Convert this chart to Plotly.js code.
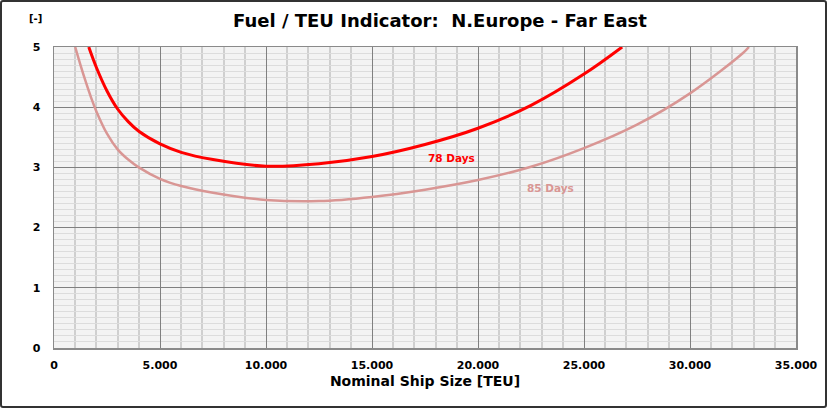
<!DOCTYPE html>
<html>
<head>
<meta charset="utf-8">
<script src="https://cdn.plot.ly/plotly-3.0.1.min.js"></script>
<style>
    body { margin: 0; background: #fff; }
    #chart { position: absolute; left: 0; top: 0; width: 827px; height: 408px; }
    #frame { position: absolute; left: 0; top: 0; width: 827px; height: 408px;
             box-sizing: border-box; border: 2px solid #333; border-radius: 3px; pointer-events: none; }
</style>
</head>
<body>
<div id="chart"></div>
<div id="frame"></div>
<script>
// 78 days round trip
const SIZE_78 = [1640, 2000, 2500, 3000, 3500, 4000, 5000, 6000, 7500, 10000, 12500, 15000, 17500, 20000, 22500, 25000, 26800];
const FUEL_78 = [5.0, 4.66, 4.27, 3.97, 3.76, 3.60, 3.39, 3.25, 3.13, 3.02, 3.06, 3.18, 3.38, 3.65, 4.03, 4.55, 5.0];

// 85 days round trip
const SIZE_85 = [1000, 1250, 1500, 1750, 2000, 2500, 3000, 3500, 4000, 5000, 6000, 7500, 10000, 12500, 15000, 17500, 20000, 22500, 25000, 27500, 30000, 32500, 32780];
const FUEL_85 = [5.0, 4.70, 4.42, 4.16, 3.93, 3.56, 3.30, 3.13, 3.00, 2.81, 2.69, 2.58, 2.46, 2.44, 2.51, 2.63, 2.79, 3.01, 3.32, 3.71, 4.23, 4.90, 5.0];

const RED  = "#ff0000";
const PINK = "#d99694";
const FONT = "DejaVu Sans, Verdana, sans-serif";

const DIV = document.querySelector("#chart");

let trace78 = {
    x: SIZE_78, y: FUEL_78,
    type: "scatter", mode: "lines",
    line: { color: RED, width: 3, shape: "spline", smoothing: 1 },
    hoverinfo: "skip"
};

let trace85 = {
    x: SIZE_85, y: FUEL_85,
    type: "scatter", mode: "lines",
    line: { color: PINK, width: 2.5, shape: "spline", smoothing: 1 },
    hoverinfo: "skip"
};

let data = [ trace85, trace78 ];

let layout = {
    width: 827,
    height: 408,
    margin: { l: 54, r: 31, t: 47, b: 60 },
    paper_bgcolor: "#ffffff",
    plot_bgcolor: "#f3f3f3",
    showlegend: false,
    separators: ",.",
    font: { family: FONT, color: "#000", size: 11, weight: "bold" },
    title: {
        text: "Fuel / TEU Indicator:  N.Europe - Far East",
        font: { family: FONT, size: 18, color: "#000", weight: "bold" },
        xref: "container", x: 0.532, xanchor: "center",
        yref: "container", y: 0.949, yanchor: "middle"
    },
    xaxis: {
        range: [0, 35000],
        dtick: 5000,
        tickformat: ",d",
        showgrid: true,
        gridcolor: "#808080",
        gridwidth: 1,
        minor: { dtick: 1000, showgrid: true, gridcolor: "#cfcfcf", gridwidth: 2 },
        showline: true, linecolor: "#8a8a8a", linewidth: 1.5, mirror: true,
        zeroline: false,
        ticks: "",
        ticklabelstandoff: 6,
        tickfont: { family: FONT, size: 11, weight: "bold" },
        title: { text: "Nominal Ship Size [TEU]", font: { family: FONT, size: 14, weight: "bold" }, standoff: 5 }
    },
    yaxis: {
        range: [0, 5],
        dtick: 1,
        showgrid: true,
        gridcolor: "#808080",
        gridwidth: 1,
        minor: { dtick: 0.1, showgrid: true, gridcolor: "#dcdcdc", gridwidth: 1 },
        showline: true, linecolor: "#8a8a8a", linewidth: 1.5, mirror: true,
        zeroline: false,
        ticks: "",
        ticklabelstandoff: 10,
        tickfont: { family: FONT, size: 11, weight: "bold" }
    },
    annotations: [
        { text: "[-]", xref: "paper", yref: "paper", x: -0.025, y: 1.096,
          xanchor: "center", yanchor: "middle", showarrow: false,
          font: { family: FONT, size: 10, weight: "bold" } },
        { text: "78 Days", xref: "x", yref: "y", x: 18730, y: 3.16,
          showarrow: false, font: { family: FONT, size: 10.5, color: RED, weight: "bold" } },
        { text: "85 Days", xref: "x", yref: "y", x: 23440, y: 2.66,
          showarrow: false, font: { family: FONT, size: 10.5, color: PINK, weight: "bold" } }
    ]
};

Plotly.newPlot(DIV, data, layout, { staticPlot: true });
</script>
</body>
</html>
